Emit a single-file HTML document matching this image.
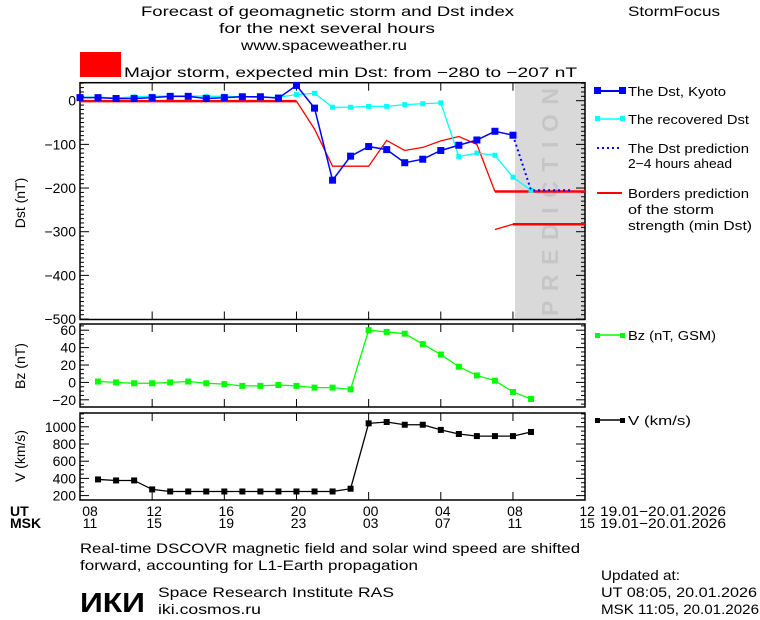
<!DOCTYPE html>
<html><head><meta charset="utf-8"><style>
html,body{margin:0;padding:0;background:#fff;}
svg{display:block;font-family:"Liberation Sans",sans-serif;}
</style></head><body>
<svg id="s" width="760" height="620" xmlns="http://www.w3.org/2000/svg">
<rect width="760" height="620" fill="#fff"/>
<g font-size="14" fill="#000" lengthAdjust="spacingAndGlyphs">
<text x="141" y="16" textLength="373" lengthAdjust="spacingAndGlyphs">Forecast of geomagnetic storm and Dst index</text>
<text x="219" y="33" textLength="216" lengthAdjust="spacingAndGlyphs">for the next several hours</text>
<text x="241" y="50" textLength="166" lengthAdjust="spacingAndGlyphs">www.spaceweather.ru</text>
<text x="628" y="16" textLength="92" lengthAdjust="spacingAndGlyphs">StormFocus</text>
</g>
<rect x="80" y="52" width="41" height="25" fill="#ff0000"/>
<text x="124" y="77" font-size="14" textLength="453" lengthAdjust="spacingAndGlyphs">Major storm, expected min Dst: from −280 to −207 nT</text>
<rect x="515" y="83" width="70" height="236" fill="#d9d9d9"/>
<text transform="translate(558,202) rotate(-90)" font-size="23" font-weight="bold" fill="#c6c6c6" text-anchor="middle" textLength="228" lengthAdjust="spacing">PREDICTION</text>
<g id="g"></g>
<g font-size="13">
<text x="628" y="96" textLength="98" lengthAdjust="spacingAndGlyphs">The Dst, Kyoto</text>
<text x="628" y="124" textLength="121" lengthAdjust="spacingAndGlyphs">The recovered Dst</text>
<text x="628" y="153" textLength="121" lengthAdjust="spacingAndGlyphs">The Dst prediction</text>
<text x="628" y="168" textLength="104" lengthAdjust="spacingAndGlyphs">2−4 hours ahead</text>
<text x="628" y="198" textLength="121" lengthAdjust="spacingAndGlyphs">Borders prediction</text>
<text x="628" y="214" textLength="86" lengthAdjust="spacingAndGlyphs">of the storm</text>
<text x="628" y="230" textLength="124" lengthAdjust="spacingAndGlyphs">strength (min Dst)</text>
<text x="628" y="340" textLength="88" lengthAdjust="spacingAndGlyphs">Bz (nT, GSM)</text>
<text x="628" y="425" textLength="63" lengthAdjust="spacingAndGlyphs">V (km/s)</text>
</g>
<line x1="597" y1="91" x2="622" y2="91" stroke="#0000ff" stroke-width="2"/>
<rect x="594" y="87" width="7" height="7" fill="#0000ff"/><rect x="619" y="87" width="7" height="7" fill="#0000ff"/>
<line x1="597" y1="119" x2="622" y2="119" stroke="#00ffff" stroke-width="1.5"/>
<rect x="595" y="116" width="5" height="5" fill="#00ffff"/><rect x="620" y="116" width="5" height="5" fill="#00ffff"/>
<line x1="597" y1="148" x2="622" y2="148" stroke="#0000ff" stroke-width="2" stroke-dasharray="2,3"/>
<line x1="597" y1="193" x2="622" y2="193" stroke="#ff0000" stroke-width="2"/>
<line x1="597" y1="335" x2="622" y2="335" stroke="#00ff00" stroke-width="1.5"/>
<rect x="595" y="333" width="5" height="5" fill="#00ff00"/><rect x="620" y="333" width="5" height="5" fill="#00ff00"/>
<line x1="597" y1="420" x2="622" y2="420" stroke="#000" stroke-width="1.5"/>
<rect x="595" y="418" width="5" height="5" fill="#000"/><rect x="620" y="418" width="5" height="5" fill="#000"/>
<text transform="translate(25,203) rotate(-90)" font-size="14" text-anchor="middle">Dst (nT)</text>
<text transform="translate(25,366) rotate(-90)" font-size="14" text-anchor="middle">Bz (nT)</text>
<text transform="translate(25,456) rotate(-90)" font-size="14" text-anchor="middle">V (km/s)</text>
<g font-size="14" font-weight="bold"><text x="10" y="516">UT</text><text x="10" y="528">MSK</text></g>
<g font-size="14"><text x="600" y="516" textLength="126" lengthAdjust="spacingAndGlyphs">19.01−20.01.2026</text><text x="600" y="528" textLength="126" lengthAdjust="spacingAndGlyphs">19.01−20.01.2026</text>
<text x="80" y="553" textLength="500" lengthAdjust="spacingAndGlyphs">Real-time DSCOVR magnetic field and solar wind speed are shifted</text>
<text x="80" y="570" textLength="338" lengthAdjust="spacingAndGlyphs">forward, accounting for L1-Earth propagation</text>
<text x="158" y="597" textLength="236" lengthAdjust="spacingAndGlyphs">Space Research Institute RAS</text>
<text x="158" y="614" textLength="103" lengthAdjust="spacingAndGlyphs">iki.cosmos.ru</text>
<text x="601" y="580" textLength="79" lengthAdjust="spacingAndGlyphs">Updated at:</text>
<text x="601" y="597" textLength="156" lengthAdjust="spacingAndGlyphs">UT  08:05, 20.01.2026</text>
<text x="601" y="614" textLength="158" lengthAdjust="spacingAndGlyphs">MSK 11:05, 20.01.2026</text></g>
<text x="80" y="612" font-size="28" font-weight="bold" textLength="65" lengthAdjust="spacingAndGlyphs">ИКИ</text>
</svg>
<script>
const NS="http://www.w3.org/2000/svg",g=document.getElementById('g');
function el(t,a,p){const e=document.createElementNS(NS,t);for(const k in a)e.setAttribute(k,a[k]);(p||g).appendChild(e);return e;}
const X=h=>80+h*18.04;
const YD=v=>100.7-v*0.4367, YB=v=>382.4-v*0.87, YV=v=>426.8+(1000-v)*0.086;
function line(pts,c,w,d){el('polyline',{points:pts.map(p=>p.join(',')).join(' '),fill:'none',stroke:c,'stroke-width':w,'stroke-dasharray':d||'none'});}
function marks(pts,c,s){pts.forEach(p=>el('rect',{x:p[0]-s/2,y:p[1]-s/2,width:s,height:s,fill:c}));}
function panel(t,b,ymap,vmin,vmax,major,minor,labs){
 el('rect',{x:80,y:t,width:505,height:b-t,fill:'none',stroke:'#000','stroke-width':1.5});
 for(let v=Math.ceil(vmin/minor)*minor;v<=vmax;v+=minor){const y=ymap(v);if(y<t||y>b)continue;const L=(Math.abs(v%major)<1e-6)?9:4;
  el('line',{x1:80,y1:y,x2:80+L,y2:y,stroke:'#000'});el('line',{x1:585,y1:y,x2:585-L,y2:y,stroke:'#000'});}
 labs.forEach(v=>{const tx=el('text',{x:76,y:ymap(v)+5,'font-size':14,'text-anchor':'end'});tx.textContent=(v<0?'−'+(-v):v);});
 for(let h=4;h<28;h+=4){el('line',{x1:X(h),y1:b,x2:X(h),y2:b-8,stroke:'#000'});el('line',{x1:X(h),y1:t,x2:X(h),y2:t+8,stroke:'#000'});}
}
panel(82.7,319.5,YD,-510,41,100,10,[0,-100,-200,-300,-400,-500]);
panel(324,407,YB,-25,65,20,5,[60,40,20,0,-20]);
panel(413,500,YV,130,1150,200,50,[1000,800,600,400,200]);
const ut=['08','12','16','20','00','04','08','12'],ms=['11','15','19','23','03','07','11','15'];
ut.forEach((s,i)=>{const cx=i==0?90:X(i*4)+2;let t=el('text',{x:cx,y:516,'font-size':14,'text-anchor':'middle'});t.textContent=s;
 t=el('text',{x:cx,y:528,'font-size':14,'text-anchor':'middle'});t.textContent=ms[i];});
line([[X(0),YD(-1)],[X(12),YD(-1)]],'#ff0000',2.5);
line([[X(12),YD(-1)],[X(13),YD(-65)],[X(14),YD(-150)],[X(16),YD(-150)],[X(17),YD(-91)],[X(18),YD(-114)],[X(19),YD(-107)],[X(20),YD(-92)],[X(21),YD(-82)],[X(22),YD(-100)],[X(23),YD(-208)]],'#ff0000',1.3);
line([[X(23),YD(-208)],[585,YD(-208)]],'#ff0000',2.5);
line([[X(23),YD(-295)],[X(24),YD(-283)]],'#ff0000',1.3);
line([[X(24),YD(-283)],[585,YD(-283)]],'#ff0000',2.5);
const cy=[8,8,6,9,10,11,11,10,10,9,7,8,14,17,-15,-15,-13,-13,-9,-7,-5,-128,-120,-125,-175,-205].map((v,i)=>[X(i),YD(v)]);
line(cy,'#00ffff',1.3);marks(cy,'#00ffff',5);
const bl=[7,7,5,5,7,10,10,5,7,9,9,6,35,-17,-182,-127,-105,-112,-142,-134,-114,-102,-90,-70,-79].map((v,i)=>[X(i),YD(v)]);
line(bl,'#0000ff',1.5);marks(bl,'#0000ff',7);
line([[X(24),YD(-79)],[X(25),YD(-205)],[X(27.3),YD(-205)]],'#0000ff',2,'2,3');
const bz=[1,0,-1,-1,0,1,-1,-2,-4,-4,-3,-4,-6,-6,-8,60,58,56,44,32,18,8,2,-11,-19].map((v,i)=>[X(i+1),YB(v)]);
line(bz,'#00ff00',1.3);marks(bz,'#00ff00',6);
const vv=[388,376,376,272,248,248,248,248,248,248,248,248,248,248,280,1040,1056,1024,1024,964,916,892,892,892,940].map((v,i)=>[X(i+1),YV(v)]);
line(vv,'#000',1.3);marks(vv,'#000',6);
</script>
</body></html>
